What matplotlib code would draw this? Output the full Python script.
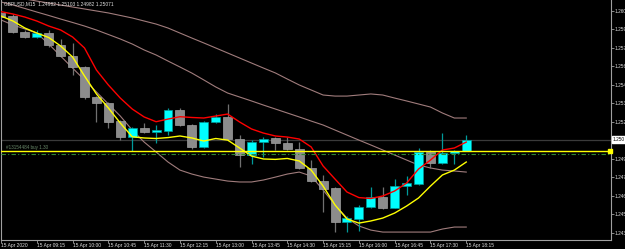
import matplotlib
matplotlib.use("Agg")
import matplotlib.pyplot as plt
import numpy as np

plt.rcParams['font.family'] = ['Liberation Sans', 'DejaVu Sans']

# ---------------- data ----------------
symbol_title = "GBPUSD,M15  1.24982 1.25103 1.24982 1.25071"
time_labels = ["15 Apr 2020", "15 Apr 09:15", "15 Apr 10:00", "15 Apr 10:45", "15 Apr 11:30",
               "15 Apr 12:15", "15 Apr 13:00", "15 Apr 13:45", "15 Apr 14:30", "15 Apr 15:15",
               "15 Apr 16:00", "15 Apr 16:45", "15 Apr 17:30", "15 Apr 18:15"]
opens = [1.26032, 1.26007, 1.25888, 1.25850, 1.25881, 1.25787, 1.25704, 1.25623, 1.25392, 1.25346,
         1.25212, 1.25093, 1.25159, 1.25127, 1.25139, 1.25296, 1.25182, 1.25013, 1.25202, 1.25245,
         1.25074, 1.24955, 1.25056, 1.25081, 1.25048, 1.25000, 1.24854, 1.24760, 1.24703, 1.24448,
         1.24468, 1.24559, 1.24639, 1.24556, 1.24723, 1.24736, 1.24980, 1.24892, 1.24968, 1.24982]
highs = [1.26052, 1.26022, 1.25901, 1.25901, 1.25901, 1.25831, 1.25800, 1.25629, 1.25401, 1.25356,
         1.25220, 1.25167, 1.25195, 1.25182, 1.25311, 1.25311, 1.25190, 1.25212, 1.25265, 1.25341,
         1.25106, 1.25068, 1.25091, 1.25093, 1.25093, 1.25056, 1.24917, 1.24804, 1.24713, 1.24493,
         1.24577, 1.24715, 1.24715, 1.24773, 1.24798, 1.25006, 1.24993, 1.25124, 1.24993, 1.25103]
lows = [1.25992, 1.25878, 1.25840, 1.25844, 1.25770, 1.25697, 1.25560, 1.25377, 1.25207, 1.25157,
        1.25068, 1.24985, 1.25119, 1.25048, 1.25106, 1.25174, 1.25000, 1.25008, 1.25197, 1.25068,
        1.24862, 1.24887, 1.24942, 1.24993, 1.24993, 1.24849, 1.24751, 1.24526, 1.24372, 1.24372,
        1.24380, 1.24554, 1.24546, 1.24556, 1.24652, 1.24728, 1.24854, 1.24887, 1.24887, 1.24982]
closes = [1.26002, 1.25888, 1.25850, 1.25881, 1.25787, 1.25704, 1.25619, 1.25392, 1.25346, 1.25207,
          1.25093, 1.25159, 1.25129, 1.25144, 1.25296, 1.25182, 1.25018, 1.25202, 1.25245, 1.25074,
          1.24955, 1.25056, 1.25076, 1.25048, 1.25000, 1.24854, 1.24758, 1.24698, 1.24448, 1.24478,
          1.24559, 1.24639, 1.24552, 1.24723, 1.24741, 1.24980, 1.24892, 1.24968, 1.24985, 1.25071]
ma_red = [1.26040, 1.26022, 1.25999, 1.25969, 1.25931, 1.25901, 1.25848, 1.25765, 1.25598, 1.25485,
          1.25386, 1.25303, 1.25243, 1.25207, 1.25227, 1.25245, 1.25239, 1.25235, 1.25250, 1.25265,
          1.25205, 1.25152, 1.25121, 1.25099, 1.25091, 1.25076, 1.25016, 1.24872, 1.24773, 1.24675,
          1.24633, 1.24626, 1.24645, 1.24683, 1.24743, 1.24849, 1.24917, 1.24993, 1.25008, 1.25053]
ma_yellow = [1.26007, 1.25969, 1.25916, 1.25878, 1.25844, 1.25780, 1.25697, 1.25553, 1.25417, 1.25311,
             1.25197, 1.25093, 1.25084, 1.25080, 1.25087, 1.25099, 1.25084, 1.25061, 1.25080, 1.25068,
             1.25008, 1.24947, 1.24925, 1.24922, 1.24929, 1.24910, 1.24841, 1.24720, 1.24577, 1.24471,
             1.24440, 1.24456, 1.24478, 1.24516, 1.24569, 1.24630, 1.24720, 1.24804, 1.24841, 1.24902]
band_upper = [1.26166, 1.26151, 1.26136, 1.26120, 1.26105, 1.26090, 1.26075, 1.26060, 1.26045, 1.26030,
              1.26011, 1.25992, 1.25969, 1.25946, 1.25916, 1.25878, 1.25840, 1.25803, 1.25765, 1.25727,
              1.25689, 1.25651, 1.25613, 1.25576, 1.25530, 1.25485, 1.25447, 1.25409, 1.25401, 1.25401,
              1.25409, 1.25417, 1.25409, 1.25386, 1.25364, 1.25341, 1.25318, 1.25273, 1.25235, 1.25235]
band_mid = [1.26113, 1.26090, 1.26064, 1.26037, 1.26011, 1.25984, 1.25958, 1.25931, 1.25901, 1.25867,
            1.25833, 1.25795, 1.25750, 1.25712, 1.25666, 1.25621, 1.25575, 1.25523, 1.25470, 1.25424,
            1.25394, 1.25364, 1.25333, 1.25303, 1.25273, 1.25243, 1.25212, 1.25182, 1.25144, 1.25106,
            1.25068, 1.25031, 1.24993, 1.24955, 1.24917, 1.24879, 1.24857, 1.24841, 1.24834, 1.24826]
band_lower = [1.25977, 1.25939, 1.25909, 1.25878, 1.25795, 1.25704, 1.25613, 1.25523, 1.25432, 1.25341,
              1.25250, 1.25144, 1.25053, 1.24978, 1.24902, 1.24841, 1.24811, 1.24788, 1.24773, 1.24758,
              1.24751, 1.24751, 1.24766, 1.24788, 1.24811, 1.24826, 1.24796, 1.24690, 1.24577, 1.24478,
              1.24418, 1.24387, 1.24372, 1.24372, 1.24372, 1.24372, 1.24372, 1.24395, 1.24410, 1.24410]
price_ticks = [1.26045, 1.25905, 1.25765, 1.25625, 1.25485, 1.25345, 1.25205,
               1.24925, 1.24785, 1.24645, 1.24505, 1.24365]
price_tick_labels = ["1.260", "1.259", "1.257", "1.256", "1.254", "1.253", "1.252",
                     "1.249", "1.247", "1.246", "1.245", "1.243"]
bid_price = 1.25071
bid_label = "1.250"
order_price = 1.24986
order_sl_price = 1.24960
order_label = "#13154484 buy 1.30"

# ---------------- figure ----------------
W, H = 625, 249
FS = 3.5
fig = plt.figure(figsize=(W / 100, H / 100), dpi=100, facecolor="black")
ax = fig.add_axes([1 / W, (H - 240) / H, (611 - 1) / W, 240 / H])
ax.set_facecolor("black")
n = len(opens)
x = np.arange(n)
ax.set_xlim(0, (611 - 1) / 11.93)
ax.set_ylim(1.24312, 1.26128)

ax.spines["top"].set_visible(False)
for s in ["left", "right", "bottom"]:
    ax.spines[s].set_color("#a0a0a0")
    ax.spines[s].set_linewidth(0.8)

# bands
band_col = "#a07c7c"
for b in (band_upper, band_mid, band_lower):
    ax.plot(x, b, color=band_col, lw=0.8, zorder=2)

# bid line
ax.axhline(bid_price, color="#3a3a3a", lw=0.9, zorder=1)

# candles
bw = 0.75
for i in range(n):
    o, h, l, c = opens[i], highs[i], lows[i], closes[i]
    up = c >= o
    body_col = "#00ffff" if up else "#8c8c8c"
    wick_col = "#009a9a" if up else "#707070"
    ax.vlines(i, l, h, color=wick_col, lw=0.9, zorder=3)
    lo, hi = min(o, c), max(o, c)
    ax.add_patch(plt.Rectangle((i - bw / 2, lo), bw, max(hi - lo, 0.00002),
                               facecolor=body_col, edgecolor=wick_col if up else "#a0a0a0",
                               lw=0.5, zorder=4))

# moving averages
ax.plot(x, ma_red, color="#ff0000", lw=1.0, zorder=5)
ax.plot(x, ma_yellow, color="#ffff00", lw=1.0, zorder=5)

# order lines
ax.axhline(order_price, color="#ffff00", lw=1.0, zorder=6)
ax.axhline(order_sl_price, color="#2e8b2e", lw=0.8, ls=(0, (4, 2, 1, 2)), zorder=6)
ax.plot([ax.get_xlim()[1] - 0.1], [order_price], marker="s", ms=2.5, color="#ffff00",
        clip_on=False, zorder=7)
ax.text(0.4, order_price + 0.00008, order_label, color="#6a8a6a", fontsize=3.3,
        va="bottom", ha="left", zorder=7)

# title
ax.text(0.25, 1.2612, symbol_title, color="#e0e0e0", fontsize=FS, va="top", ha="left", zorder=8)

# x ticks
tick_pos = list(range(0, n, 3))
ax.set_xticks(tick_pos)
ax.set_xticklabels(time_labels[:len(tick_pos)], fontsize=FS, color="#e0e0e0")
ax.tick_params(axis="x", length=2, width=0.6, color="#a0a0a0", pad=0.2)
for lab in ax.get_xticklabels():
    lab.set_horizontalalignment("left")

# y ticks on right
ax.yaxis.tick_right()
ax.set_yticks(price_ticks)
ax.set_yticklabels(price_tick_labels, fontsize=3.4, color="#e0e0e0")
ax.tick_params(axis="y", length=2, width=0.6, color="#a0a0a0", pad=0.3)

# bid price label
ax.text(1.003, bid_price, bid_label, transform=ax.get_yaxis_transform(),
        fontsize=3.4, color="black", va="center", ha="left",
        bbox=dict(boxstyle="square,pad=0.15", facecolor="white", edgecolor="white"), clip_on=False)

fig.savefig("out.png", dpi=100, facecolor="black")
